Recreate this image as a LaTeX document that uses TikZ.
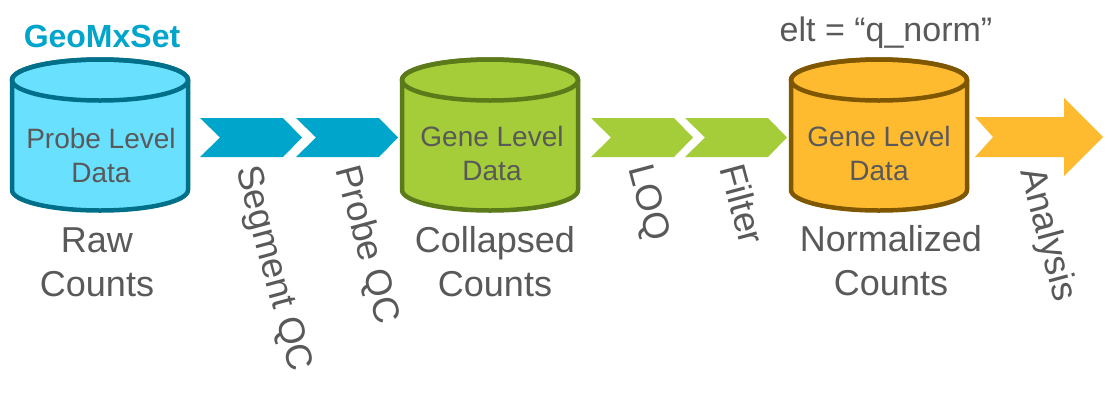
\documentclass[tikz,border=0pt]{standalone}
\usepackage{fontspec}
\setmainfont{Liberation Sans}
\definecolor{txtgray}{HTML}{595959}
\definecolor{bluefill}{HTML}{6AE0FF}
\definecolor{bluedraw}{HTML}{006F8A}
\definecolor{blueshape}{HTML}{00A5CC}
\definecolor{greenfill}{HTML}{A5CD39}
\definecolor{greendraw}{HTML}{5B7A1A}
\definecolor{orangefill}{HTML}{FFBB30}
\definecolor{orangedraw}{HTML}{7F5700}
\newcommand{\mycyl}[3]{%
  \filldraw[fill=#2, draw=#3, line width=4.5pt, line join=round]
    (#1-88,-80) -- (#1-88,-190)
    arc[start angle=180, end angle=360, x radius=88, y radius=20.5]
    -- (#1+88,-80)
    arc[start angle=0, end angle=180, x radius=88, y radius=20.5] -- cycle;
  \draw[draw=#3, line width=4.5pt] (#1,-80) ellipse[x radius=88, y radius=20.5];
}
\newcommand{\mychev}[2]{%
  \fill[#2] (#1,-118) -- (#1+83,-118) -- (#1+102,-137.5) -- (#1+83,-157)
    -- (#1,-157) -- (#1+20,-137.5) -- cycle;
}
\tikzset{
  inlabel/.style={text=txtgray, align=center, inner sep=0pt, anchor=base,
    font=\fontsize{28}{34}\selectfont},
  sublabel/.style={text=txtgray, align=center, inner sep=0pt, anchor=base,
    font=\fontsize{36}{44}\selectfont},
  steplabel/.style={text=txtgray, inner sep=0pt, anchor=center, rotate=-75,
    font=\fontsize{36.5}{42}\selectfont},
}
\begin{document}
\begin{tikzpicture}[x=1pt, y=1pt]
\fill[white] (0,0) rectangle (1108,-408);
\useasboundingbox (0,0) rectangle (1108,-408);

% cylinders
\mycyl{100}{bluefill}{bluedraw}
\mycyl{490}{greenfill}{greendraw}
\mycyl{879}{orangefill}{orangedraw}

% chevrons
\mychev{200}{blueshape}
\mychev{296}{blueshape}
\mychev{591}{greenfill}
\mychev{685}{greenfill}

% final arrow
\fill[orangefill] (975,-117) -- (1064,-117) -- (1064,-98) -- (1103,-137)
  -- (1064,-176) -- (1064,-157) -- (975,-157) -- (993,-137) -- cycle;

% titles
\node[anchor=base, inner sep=0pt, text=blueshape,
  font=\fontsize{32}{38}\selectfont\bfseries] (geo) at (102,-47) {GeoMxSet};
\node[anchor=base, inner sep=0pt, text=txtgray,
  font=\fontsize{34}{40}\selectfont] (elt) at (886,-41) {elt = “q\_norm”};

% texts inside cylinders (anchor base = last line)
\node[inlabel] (probe) at (101,-182) {Probe Level\\Data};
\node[inlabel] (gene1) at (492,-180) {Gene Level\\Data};
\node[inlabel] (gene2) at (879,-180) {Gene Level\\Data};

% labels under cylinders
\node[sublabel] (raw) at (97,-296) {Raw\\Counts};
\node[sublabel] (collapsed) at (495,-296) {Collapsed\\Counts};
\node[sublabel] (normalized) at (891,-295) {Normalized\\Counts};

% step labels
\node[steplabel] (segqc) at (272,-269) {Segment QC};
\node[steplabel] (probeqc) at (366,-245) {Probe QC};
\node[steplabel] (loq) at (647,-203) {LOQ};
\node[steplabel] (filter) at (743,-204) {Filter};
\node[steplabel] (analysis) at (1047,-235) {Analysis};
\end{tikzpicture}
\end{document}
